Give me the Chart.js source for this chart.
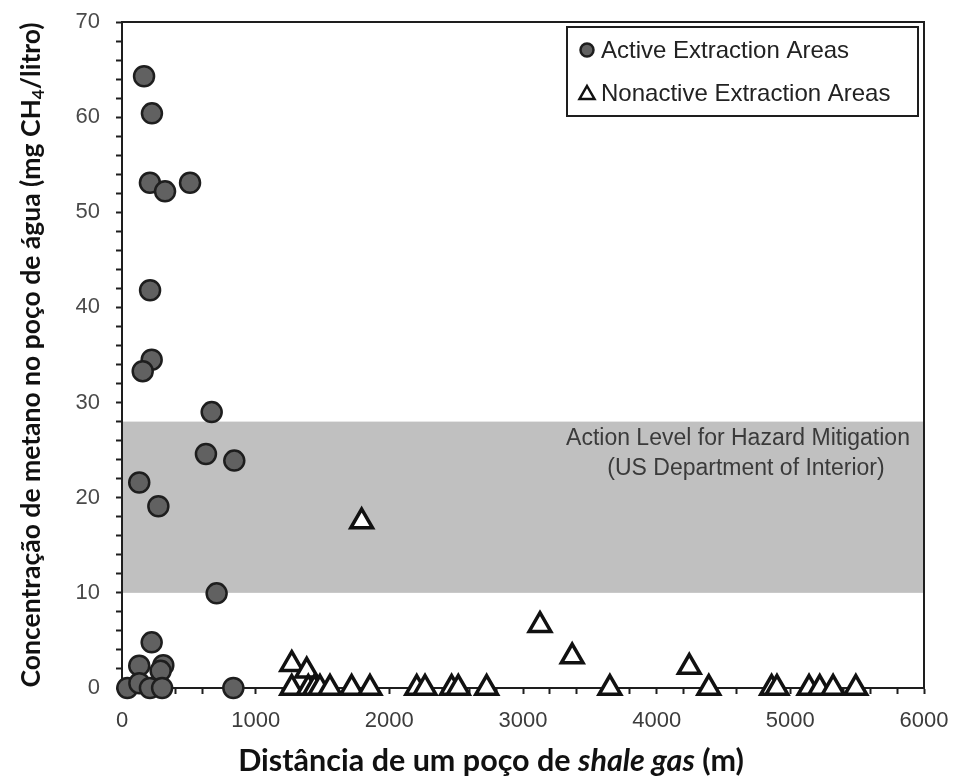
<!DOCTYPE html>
<html>
<head>
<meta charset="utf-8">
<script src="https://cdn.jsdelivr.net/npm/chart.js@4.4.1/dist/chart.umd.min.js"></script>
<style>
  html, body { margin: 0; padding: 0; background: #fff; }
  #wrap { width: 953px; height: 783px; }
</style>
</head>
<body>
<div id="wrap"><canvas id="methaneChart"></canvas></div>
<script>
// distance to nearest shale gas well (m) / methane in water well (mg CH4/L)
const activeX = [165, 224, 209, 322, 509, 210, 222, 155, 671, 628, 840, 129, 272, 708, 222, 129, 309, 289, 40, 130, 209, 300, 833];
const activeY = [64.3, 60.4, 53.1, 52.2, 53.1, 41.8, 34.5, 33.3, 29.0, 24.6, 23.9, 21.6, 19.1, 9.95, 4.8, 2.35, 2.4, 1.8, 0, 0.5, 0, 0, 0];

const nonactiveX = [1793, 3127, 3368, 1270, 1382, 4244, 1270, 1394, 1440, 1481, 1556, 1718, 1855, 2205, 2267, 2466, 2516, 2728, 3650, 4390, 4860, 4900, 5140, 5220, 5320, 5490];
const nonactiveY = [17.5, 6.6, 3.3, 2.5, 1.8, 2.2, 0, 0, 0, 0, 0, 0, 0, 0, 0, 0, 0, 0, 0, 0, 0, 0, 0, 0, 0, 0];

const seriesLabels = ["Active Extraction Areas", "Nonactive Extraction Areas"];
const xTicks = { min: 0, max: 6000, step: 200, labelEvery: 1000 };
const yTicks = { min: 0, max: 70, step: 2, labelEvery: 10 };

// action level band
const bandRange = [10, 28];
const bandText = ["Action Level for Hazard Mitigation", "(US Department of Interior)"];

const yTitle = ["Concentração de metano no poço de água (mg CH", "4", "/litro)"];
const xTitle = ["Distância de um poço de ", "shale gas", " (m)"];

const toPoints = (xs, ys) => xs.map((x, i) => ({ x: x, y: ys[i] }));

const INK = "#1e1e1e";

// gray band + its label, and the box round the plot
const bandPlugin = {
    id: "band",
    beforeDatasetsDraw(chart) {
        const { ctx, chartArea, scales } = chart;
        const top = scales.y.getPixelForValue(bandRange[1]);
        const bot = scales.y.getPixelForValue(bandRange[0]);
        ctx.save();
        ctx.fillStyle = "#c0c0c0";
        ctx.fillRect(chartArea.left + 1, top, chartArea.right - chartArea.left - 2, bot - top);

        ctx.fillStyle = "#3a3a3a";
        ctx.font = "23px 'Liberation Sans', Arial, sans-serif";
        ctx.textAlign = "center";
        ctx.textBaseline = "middle";
        ctx.fillText(bandText[0], 738, top + 17);
        ctx.fillText(bandText[1], 746, top + 47);

        // top and right edges of the frame
        ctx.strokeStyle = INK;
        ctx.lineWidth = 2;
        ctx.beginPath();
        ctx.moveTo(chartArea.left, chartArea.top);
        ctx.lineTo(chartArea.right, chartArea.top);
        ctx.lineTo(chartArea.right, chartArea.bottom);
        ctx.stroke();
        ctx.restore();
    }
};

// legend box in the top right corner
const legendPlugin = {
    id: "boxLegend",
    afterDatasetsDraw(chart) {
        const { ctx, chartArea } = chart;
        const ds = chart.data.datasets;
        const x0 = 567, y0 = chartArea.top + 5, w = chartArea.right - 6 - x0, h = 89;
        ctx.save();
        ctx.fillStyle = "#fff";
        ctx.fillRect(x0, y0, w, h);
        ctx.strokeStyle = INK;
        ctx.lineWidth = 2;
        ctx.strokeRect(x0, y0, w, h);

        ctx.font = "24px 'Liberation Sans', Arial, sans-serif";
        ctx.textBaseline = "middle";
        ctx.textAlign = "left";
        const rows = [y0 + 23, y0 + 66];
        ds.forEach((d, i) => {
            const cy = rows[i], cx = 587;
            ctx.lineWidth = 2.5;
            ctx.strokeStyle = d.borderColor;
            ctx.fillStyle = d.backgroundColor;
            if (d.pointStyle === "circle") {
                ctx.beginPath();
                ctx.arc(cx, cy, 6.5, 0, Math.PI * 2);
                ctx.fill();
                ctx.stroke();
            } else {
                ctx.beginPath();
                ctx.moveTo(cx, cy - 7);
                ctx.lineTo(cx + 7.5, cy + 6);
                ctx.lineTo(cx - 7.5, cy + 6);
                ctx.closePath();
                ctx.fill();
                ctx.stroke();
            }
            ctx.fillStyle = "#222";
            ctx.fillText(d.label, 601, cy + 1);
        });
        ctx.restore();
    }
};

// axis titles (mixed styles: subscript and italic)
const titlePlugin = {
    id: "axisTitles",
    afterDraw(chart) {
        const { ctx } = chart;
        ctx.save();
        ctx.fillStyle = "#111";
        ctx.textBaseline = "alphabetic";

        // y title, rotated
        const big = "bold 26.5px Lato, 'Open Sans', sans-serif";
        const small = "bold 17px Lato, 'Open Sans', sans-serif";
        ctx.font = big;
        const w0 = ctx.measureText(yTitle[0]).width;
        const w2 = ctx.measureText(yTitle[2]).width;
        ctx.font = small;
        const w1 = ctx.measureText(yTitle[1]).width;
        const total = w0 + w1 + w2;
        ctx.translate(40, 355);
        ctx.rotate(-Math.PI / 2);
        let x = -total / 2;
        ctx.font = big;
        ctx.fillText(yTitle[0], x, 0);
        x += w0;
        ctx.font = small;
        ctx.fillText(yTitle[1], x, 4);
        x += w1;
        ctx.font = big;
        ctx.fillText(yTitle[2], x, 0);
        ctx.restore();

        // x title
        ctx.save();
        ctx.fillStyle = "#111";
        const fonts = [
            "bold 30.5px Lato, 'Open Sans', sans-serif",
            "italic bold 30.5px Lato, 'Open Sans', sans-serif",
            "bold 30.5px Lato, 'Open Sans', sans-serif"
        ];
        const widths = xTitle.map((t, i) => { ctx.font = fonts[i]; return ctx.measureText(t).width; });
        let xx = 491 - widths.reduce((a, b) => a + b, 0) / 2;
        xTitle.forEach((t, i) => {
            ctx.font = fonts[i];
            ctx.fillText(t, xx, 771);
            xx += widths[i];
        });
        ctx.restore();
    }
};

new Chart(document.getElementById("methaneChart"), {
    type: "scatter",
    data: {
        datasets: [{
            label: seriesLabels[0],
            data: toPoints(activeX, activeY),
            pointStyle: "circle",
            pointRadius: 10,
            backgroundColor: "#616161",
            borderColor: INK,
            borderWidth: 2.5,
            clip: false
        }, {
            label: seriesLabels[1],
            data: toPoints(nonactiveX, nonactiveY),
            pointStyle: "triangle",
            pointRadius: 12.5,
            backgroundColor: "#ffffff",
            borderColor: "#111111",
            borderWidth: 3.5,
            clip: false
        }]
    },
    options: {
        responsive: true,
        maintainAspectRatio: false,
        animation: false,
        events: [],
        layout: { autoPadding: false, padding: { top: 22, right: 29, left: 0, bottom: 0 } },
        plugins: {
            legend: { display: false },
            tooltip: { enabled: false }
        },
        scales: {
            x: {
                type: "linear",
                min: xTicks.min,
                max: xTicks.max,
                afterFit: s => { s.height = 95; s.paddingLeft = 0; s.paddingRight = 0; },
                ticks: {
                    stepSize: xTicks.step,
                    autoSkip: false,
                    maxRotation: 0,
                    padding: 14,
                    color: "#3c3c3c",
                    font: { family: "'Liberation Sans', Arial", size: 22 },
                    callback: v => (v % xTicks.labelEvery === 0 ? v : "")
                },
                grid: { drawOnChartArea: false, tickLength: 6, tickColor: INK, tickWidth: 2 },
                border: { display: true, color: INK, width: 2 }
            },
            y: {
                type: "linear",
                min: yTicks.min,
                max: yTicks.max,
                afterFit: s => { s.width = 122; s.paddingTop = 0; s.paddingBottom = 0; },
                ticks: {
                    stepSize: yTicks.step,
                    autoSkip: false,
                    padding: 16,
                    color: "#4a4a4a",
                    font: { family: "'Liberation Sans', Arial", size: 22 },
                    callback: v => (v % yTicks.labelEvery === 0 ? v : "")
                },
                grid: { drawOnChartArea: false, tickLength: 6, tickColor: INK, tickWidth: 2 },
                border: { display: true, color: INK, width: 2 }
            }
        }
    },
    plugins: [bandPlugin, legendPlugin, titlePlugin]
});
</script>
</body>
</html>
